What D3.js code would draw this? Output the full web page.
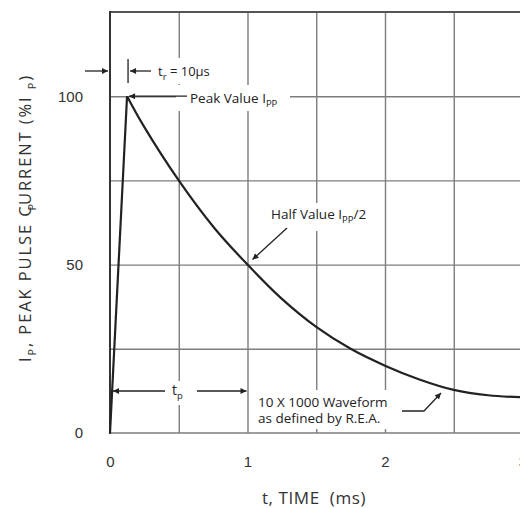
<!DOCTYPE html>
<html>
<head>
<meta charset="utf-8">
<style>
body { margin: 0; background: #fff; }
svg { display: block; font-family: "Open Sans", sans-serif; }
.grid line { stroke: #7d7d7d; stroke-width: 1.4; }
.grid path { display: none; }
.lbl text { fill: #333; font-size: 15px; }
.lbl path, .lbl line { display: none; }
.note { fill: #222; font-size: 12px; }
.ann { stroke: #222; stroke-width: 1.3; fill: none; }
</style>
</head>
<body>
<div id="chart"></div>
<script src="https://cdn.jsdelivr.net/npm/d3@7"></script>
<script>
// 10 x 1000 us waveform
var timeMs     = [0, 0.124, 0.24, 0.5, 0.76, 1.0, 1.24, 1.5, 1.75, 2.0, 2.25, 2.5, 2.75, 3.0];
var currentPct = [0, 100,   91.5, 75,  60.8, 50,  40.2, 31.5, 25.0, 20, 15.9, 12.8, 11.2, 10.6];

var xLabels = [0, 1, 2, 3];
var yLabels = [0, 50, 100];
var xGrid = [0.5, 1, 1.5, 2, 2.5, 3];
var yGrid = [25, 50, 75, 100];

var W = 520, H = 508,
    pLeft = 110, pTop = 12, pBottom = 433, pRight = 522.5;

var svg = d3.select("#chart").append("svg")
  .attr("width", W)
  .attr("height", H);

var x = d3.scaleLinear().domain([0, 3]).range([pLeft, pRight]);
var y = d3.scaleLinear().domain([0, 125]).range([pBottom, pTop]);

var defs = svg.append("defs");
defs.append("marker")
    .attr("id", "ah")
    .attr("viewBox", "0 0 10 10")
    .attr("refX", 10).attr("refY", 5)
    .attr("markerWidth", 8).attr("markerHeight", 6)
    .attr("markerUnits", "userSpaceOnUse")
    .attr("orient", "auto")
  .append("path")
    .attr("d", "M0,0L10,5L0,10z")
    .attr("fill", "#222");

// grid
svg.append("g")
    .attr("class", "grid")
    .attr("transform", "translate(0," + pBottom + ")")
    .call(d3.axisBottom(x).tickValues(xGrid).tickSize(-(pBottom - pTop)).tickFormat(""));
svg.append("g")
    .attr("class", "grid")
    .attr("transform", "translate(" + pLeft + ",0)")
    .call(d3.axisLeft(y).tickValues(yGrid).tickSize(-(pRight - pLeft)).tickFormat(""));

// white patches behind the notes (they cut the grid in the original)
var patches = [
  [154, 58, 62, 26],
  [176, 85, 114, 26],
  [268, 203, 104, 28],
  [166, 381, 30, 24],
  [254, 390, 145, 39]
];
svg.selectAll("rect.patch").data(patches).enter().append("rect")
    .attr("class", "patch")
    .attr("x", function(d) { return d[0]; })
    .attr("y", function(d) { return d[1]; })
    .attr("width", function(d) { return d[2]; })
    .attr("height", function(d) { return d[3]; })
    .attr("fill", "#fff");

// frame
svg.append("line").attr("x1", pLeft).attr("x2", W).attr("y1", pBottom).attr("y2", pBottom)
    .attr("stroke", "#7d7d7d").attr("stroke-width", 1.6);
svg.append("line").attr("x1", pLeft).attr("x2", W).attr("y1", pTop).attr("y2", pTop)
    .attr("stroke", "#555").attr("stroke-width", 2);
svg.append("line").attr("x1", pLeft).attr("x2", pLeft).attr("y1", pTop - 1).attr("y2", pBottom + 1)
    .attr("stroke", "#333").attr("stroke-width", 2);

// tick labels
svg.append("g")
    .attr("class", "lbl")
    .attr("transform", "translate(0," + (pBottom + 20) + ")")
    .call(d3.axisBottom(x).tickValues(xLabels).tickSize(0).tickFormat(d3.format("d")));
svg.append("g")
    .attr("class", "lbl")
    .attr("transform", "translate(" + (pLeft - 24) + ",0)")
    .call(d3.axisLeft(y).tickValues(yLabels).tickSize(0).tickFormat(d3.format("d")));

// waveform
var pts = timeMs.map(function(t, i) { return [t, currentPct[i]]; });
var line = d3.line().x(function(d) { return x(d[0]); }).y(function(d) { return y(d[1]); });
svg.append("path")
    .attr("d", line(pts.slice(0, 2)))
    .attr("fill", "none").attr("stroke", "#222").attr("stroke-width", 2.2);
svg.append("path")
    .attr("d", line.curve(d3.curveCatmullRom.alpha(0.5))(pts.slice(1)))
    .attr("fill", "none").attr("stroke", "#222").attr("stroke-width", 2.2);

function arrow(x1, y1, x2, y2) {
  svg.append("line").attr("class", "ann")
      .attr("x1", x1).attr("y1", y1).attr("x2", x2).attr("y2", y2)
      .attr("marker-end", "url(#ah)");
}
function note(px, py, parts, size) {
  var t = svg.append("text").attr("class", "note").attr("x", px).attr("y", py)
      .style("font-size", (size || 12) + "px");
  parts.forEach(function(p) {
    if (typeof p === "string") {
      t.append("tspan").text(p);
    } else {
      t.append("tspan").attr("dy", 4).style("font-size", "9.5px").text(p.sub);
      if (p.after) t.append("tspan").attr("dy", -4).text(p.after);
    }
  });
  return t;
}

var xPeak = x(timeMs[1]), yPeak = y(currentPct[1]);

// t_r
arrow(85, 71, 108, 71);
svg.append("line").attr("class", "ann").attr("x1", xPeak + 1).attr("x2", xPeak + 1).attr("y1", 59).attr("y2", 83);
arrow(151, 71, xPeak + 3, 71);
note(158, 76, ["t", {sub: "r", after: " = 10\u00b5s"}], 13);

// peak
arrow(187, yPeak, xPeak + 2, yPeak);
note(190, 103, ["Peak Value I", {sub: "PP"}], 13.5);

// half value
arrow(287, 228, x(1) + 5, y(50) - 5);
note(271, 219, ["Half Value I", {sub: "PP", after: "/2"}], 13.5);

// t_p
arrow(165, 391, x(0) + 3, 391);
arrow(197, 391, x(1) - 1, 391);
note(172, 395, ["t", {sub: "p"}], 14);

// waveform note
note(258, 407, ["10 X 1000 Waveform"], 13.5);
note(258, 423, ["as defined by R.E.A."], 13.5);
svg.append("path").attr("class", "ann")
    .attr("d", "M402,411L424,411L441,393")
    .attr("marker-end", "url(#ah)");

// axis titles
svg.append("text")
    .attr("x", 314).attr("y", 504)
    .attr("text-anchor", "middle")
    .style("font-size", "17px").style("letter-spacing", "0.6px")
    .style("white-space", "pre")
    .attr("fill", "#333")
    .text("t, TIME  (ms)");

var yt = svg.append("text")
    .attr("transform", "translate(31,218) rotate(-90)")
    .attr("text-anchor", "middle")
    .style("font-size", "16.5px").style("letter-spacing", "1.9px")
    .attr("fill", "#333");
yt.append("tspan").text("I");
yt.append("tspan").attr("dy", 5).style("font-size", "11px").text("P");
yt.append("tspan").attr("dy", -5).text(", PEAK PULSE C");
yt.append("tspan").attr("dy", 5).attr("dx", -6).style("font-size", "11px").text("P");
yt.append("tspan").attr("dy", -5).attr("dx", -3).text("URRENT (%I ");
yt.append("tspan").attr("dy", 5).style("font-size", "11px").text("P");
yt.append("tspan").attr("dy", -5).text(")");
</script>
</body>
</html>
